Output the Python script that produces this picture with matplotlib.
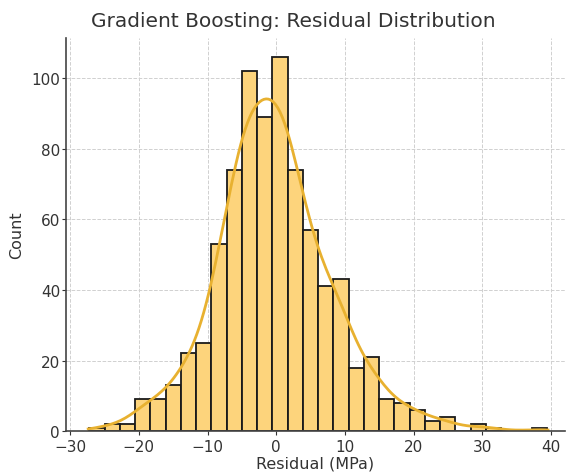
import numpy as np
import matplotlib
matplotlib.use("Agg")
import matplotlib.pyplot as plt
import seaborn as sns

# Histogram: 30 bins from -27.2 to 39.4
bin_low = -27.2
bin_high = 39.4
counts = [1, 2, 2, 9, 9, 13, 22, 25, 53, 74,
          102, 89, 106, 74, 57, 41, 43, 18, 21, 9,
          8, 6, 3, 4, 0, 2, 1, 0, 0, 1]
edges = np.linspace(bin_low, bin_high, len(counts) + 1)
centers = (edges[:-1] + edges[1:]) / 2

title = "Gradient Boosting: Residual Distribution"
xlabel = "Residual (MPa)"
ylabel = "Count"

fig = plt.figure(figsize=(5.67, 4.77), dpi=100)
ax = fig.add_axes([0.117, 0.094, 0.879, 0.824])

sns.histplot(x=centers, weights=np.array(counts, dtype=float), bins=len(counts),
             binrange=(bin_low, bin_high), kde=True, ax=ax,
             kde_kws=dict(bw_adjust=0.43, cut=0.3),
             color="#E8B130", facecolor="#FDD47C", edgecolor="#1a1a1a",
             linewidth=1.3, alpha=1, line_kws=dict(linewidth=2))

ax.set_xlim(-30.55, 42.0)
ax.set_ylim(0, 111.3)

fig.text(0.517, 0.955, title, fontsize=14.5, color="#333333",
         ha="center", va="center")
ax.set_xlabel(xlabel, fontsize=11.5, color="#333333", labelpad=1)
ax.set_ylabel(ylabel, fontsize=11.5, color="#333333", labelpad=5)
ax.tick_params(labelsize=11, colors="#333333", length=3)
ax.tick_params(axis="x", pad=3)
ax.tick_params(axis="y", pad=1.5)
ax.grid(True, linestyle="--", color="#d0d0d0", linewidth=0.7)
ax.set_axisbelow(True)
for s in ["top", "right"]:
    ax.spines[s].set_visible(False)
for s in ["left", "bottom"]:
    ax.spines[s].set_color("#444444")
    ax.spines[s].set_linewidth(1.2)

fig.savefig("out.png", dpi=100)
